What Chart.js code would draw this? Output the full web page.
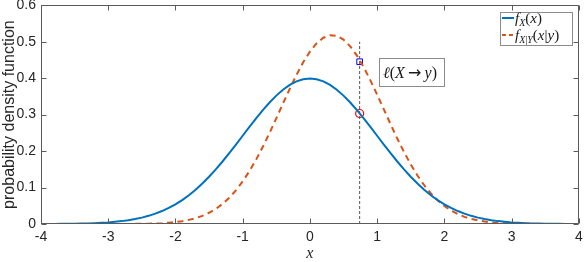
<!DOCTYPE html>
<html>
<head>
<meta charset="utf-8">
<script src="https://cdn.jsdelivr.net/npm/chart.js@4/dist/chart.umd.min.js"></script>
<style>
html,body{margin:0;padding:0;background:#fff;}
canvas{display:block;}
</style>
</head>
<body>
<canvas id="c" width="584" height="262"></canvas>
<script>
// ---- data ----
const xValues = [-4.0,-3.9,-3.8,-3.7,-3.6,-3.5,-3.4,-3.3,-3.2,-3.1,
  -3.0,-2.9,-2.8,-2.7,-2.6,-2.5,-2.4,-2.3,-2.2,-2.1,
  -2.0,-1.9,-1.8,-1.7,-1.6,-1.5,-1.4,-1.3,-1.2,-1.1,
  -1.0,-0.9,-0.8,-0.7,-0.6,-0.5,-0.4,-0.3,-0.2,-0.1,
  0.0,0.1,0.2,0.3,0.4,0.5,0.6,0.7,0.8,0.9,
  1.0,1.1,1.2,1.3,1.4,1.5,1.6,1.7,1.8,1.9,
  2.0,2.1,2.2,2.3,2.4,2.5,2.6,2.7,2.8,2.9,
  3.0,3.1,3.2,3.3,3.4,3.5,3.6,3.7,3.8,3.9,4.0];

const fX = [0.0001,0.0002,0.0003,0.0004,0.0006,0.0009,0.0012,0.0017,0.0024,0.0033,
  0.0044,0.0060,0.0079,0.0104,0.0136,0.0175,0.0224,0.0283,0.0355,0.0440,
  0.0540,0.0656,0.0790,0.0940,0.1109,0.1295,0.1497,0.1714,0.1942,0.2179,
  0.2420,0.2661,0.2897,0.3123,0.3332,0.3521,0.3683,0.3814,0.3910,0.3970,
  0.3989,0.3970,0.3910,0.3814,0.3683,0.3521,0.3332,0.3123,0.2897,0.2661,
  0.2420,0.2179,0.1942,0.1714,0.1497,0.1295,0.1109,0.0940,0.0790,0.0656,
  0.0540,0.0440,0.0355,0.0283,0.0224,0.0175,0.0136,0.0104,0.0079,0.0060,
  0.0044,0.0033,0.0024,0.0017,0.0012,0.0009,0.0006,0.0004,0.0003,0.0002,0.0001];

const fXgivenY = [0,0,0,0,0,0,0,0,0,0,
  0.0000,0.0001,0.0001,0.0002,0.0004,0.0006,0.0010,0.0015,0.0023,0.0036,
  0.0053,0.0078,0.0113,0.0160,0.0224,0.0308,0.0415,0.0551,0.0720,0.0924,
  0.1166,0.1447,0.1765,0.2117,0.2498,0.2898,0.3305,0.3707,0.4088,0.4433,
  0.4727,0.4955,0.5108,0.5177,0.5160,0.5056,0.4872,0.4616,0.4300,0.3940,
  0.3548,0.3142,0.2737,0.2343,0.1973,0.1634,0.1330,0.1064,0.0837,0.0648,
  0.0493,0.0369,0.0271,0.0196,0.0140,0.0098,0.0067,0.0045,0.0030,0.0020,
  0.0013,0.0008,0.0005,0.0003,0.0002,0.0001,0.0001,0,0,0,0];

const markerX = 0.74;          // observed y position on the x axis
const squareY = 0.445;         // f_{X|Y}(x|y) at markerX
const circleY = 0.303;         // f_X(x) at markerX
const vlineY = [0, 0.5];       // extent of the dashed vertical line
const xTicks = [-4,-3,-2,-1,0,1,2,3,4];
const yTicks = [0,0.1,0.2,0.3,0.4,0.5,0.6];

// ---- chart ----
const BLUE = '#0072BD', ORANGE = '#D95319', AXIS = '#5a5a5a', TXT = '#262626';
Chart.defaults.font.family = "'Liberation Sans', Arial, sans-serif";
Chart.defaults.color = TXT;

function pts(xs, ys){ return xs.map((x,i)=>({x:x,y:ys[i]})); }

function drawMath(ctx, parts, x, y){
  // parts: [text, size, italic, dy, family]
  let cx = x;
  for (const p of parts){
    const fam = p[4] || "'Liberation Serif', 'DejaVu Serif', serif";
    ctx.font = (p[2] ? 'italic ' : '') + p[1] + "px " + fam;
    ctx.fillText(p[0], cx, y + (p[3]||0));
    cx += ctx.measureText(p[0]).width;
  }
  return cx;
}

const boxPlugin = {
  id: 'matlabBox',
  afterDatasetsDraw(chart){
    const {ctx, chartArea: a, scales:{x, y}} = chart;
    ctx.save();
    ctx.strokeStyle = AXIS;
    ctx.lineWidth = 1;
    const L = Math.round(a.left)+0.5, R = Math.round(a.right)-0.5,
          T = Math.round(a.top)+0.5, B = Math.round(a.bottom)-0.5;
    ctx.beginPath();
    ctx.rect(L, T, R-L, B-T);
    const tl = 5;
    xTicks.forEach(v=>{
      const px = Math.round(x.getPixelForValue(v))+0.5;
      ctx.moveTo(px, B); ctx.lineTo(px, B-tl);
      ctx.moveTo(px, T); ctx.lineTo(px, T+tl);
    });
    yTicks.forEach(v=>{
      const py = Math.round(y.getPixelForValue(v))+0.5;
      ctx.moveTo(L, py); ctx.lineTo(L+tl, py);
      ctx.moveTo(R, py); ctx.lineTo(R-tl, py);
    });
    ctx.stroke();

    // annotation box  l(X -> y)
    const bx = 379, by = 58, bw = 66, bh = 29;
    ctx.fillStyle = '#fff';
    ctx.fillRect(bx, by, bw, bh);
    ctx.strokeStyle = '#8c8c8c';
    ctx.strokeRect(bx+0.5, by+0.5, bw-1, bh-1);
    ctx.fillStyle = '#1a1a1a';
    ctx.textBaseline = 'alphabetic';
    drawMath(ctx, [['\u2113',16,true],['(',16,false],['X',16,true],['\u2009\u2192\u2009',16,false,0,"'DejaVu Sans', sans-serif"],['y',16,true],[')',16,false]], bx+4, by+20);

    // legend
    const lx = 500, ly = 12, lw = 73, lh = 34;
    ctx.fillStyle = '#fff';
    ctx.fillRect(lx, ly, lw, lh);
    ctx.strokeStyle = '#8c8c8c';
    ctx.strokeRect(lx+0.5, ly+0.5, lw-1, lh-1);
    ctx.lineWidth = 2;
    ctx.strokeStyle = BLUE;
    ctx.beginPath(); ctx.moveTo(lx+2, ly+6); ctx.lineTo(lx+14, ly+6); ctx.stroke();
    ctx.strokeStyle = ORANGE;
    ctx.setLineDash([4,3]);
    ctx.beginPath(); ctx.moveTo(lx+2, ly+23); ctx.lineTo(lx+14, ly+23); ctx.stroke();
    ctx.setLineDash([]);
    ctx.fillStyle = '#1a1a1a';
    drawMath(ctx, [['f',15,true],['X',10,true,3],['(',15,false],['x',15,true],[')',15,false]], lx+15, ly+11);
    drawMath(ctx, [['f',15,true],['X',10,true,3],['|',10,false,3],['Y',10,true,3],['(',15,false],['x',15,true],['|',15,false],['y',15,true],[')',15,false]], lx+15, ly+28);
    ctx.restore();
  }
};

new Chart(document.getElementById('c'), {
  type: 'scatter',
  data: {
    datasets: [
      { label: 'fX', data: pts(xValues, fX), showLine: true, borderColor: BLUE, borderWidth: 2,
        pointRadius: 0, fill: false, tension: 0 },
      { label: 'fXY', data: pts(xValues, fXgivenY), showLine: true, borderColor: ORANGE, borderWidth: 2,
        borderDash: [6,4.5], pointRadius: 0, fill: false, tension: 0 },
      { label: 'vline', data: [{x:markerX,y:vlineY[0]},{x:markerX,y:vlineY[1]}], showLine: true,
        borderColor: '#555555', borderWidth: 1, borderDash: [3,2], pointRadius: 0 },
      { label: 'sq', data: [{x:markerX,y:squareY}], pointStyle: 'rect', pointRadius: 4,
        borderColor: '#0000ff', borderWidth: 1, backgroundColor: 'rgba(0,0,0,0)' },
      { label: 'circ', data: [{x:markerX,y:circleY}], pointStyle: 'circle', pointRadius: 4,
        borderColor: '#ff0000', borderWidth: 1.2, backgroundColor: 'rgba(0,0,0,0)' }
    ]
  },
  options: {
    responsive: false,
    animation: false,
    devicePixelRatio: 1,
    layout: { padding: { top: 5, right: 3, left: 0, bottom: 0 } },
    plugins: { legend: { display: false }, tooltip: { enabled: false } },
    scales: {
      x: {
        type: 'linear', min: -4, max: 4,
        afterBuildTicks: s => { s.ticks = xTicks.map(v=>({value:v})); },
        afterFit: s => { s.height = 38; s.paddingLeft = 0; s.paddingRight = 0; },
        grid: { display: false, drawTicks: false },
        border: { display: false },
        ticks: { padding: 5, font: { size: 14 }, color: TXT, maxRotation: 0,
                 callback: v => String(v) },
        title: { display: true, text: 'x', padding: 0, color: TXT,
                 font: { family: "'Liberation Serif', serif", style: 'italic', size: 16, lineHeight: 1 } }
      },
      y: {
        type: 'linear', min: 0, max: 0.6,
        afterBuildTicks: s => { s.ticks = yTicks.map(v=>({value:v})); },
        afterFit: s => { s.width = 41; s.paddingTop = 0; s.paddingBottom = 0; },
        grid: { display: false, drawTicks: false },
        border: { display: false },
        ticks: { padding: 5, font: { size: 14 }, color: TXT,
                 callback: v => String(Math.round(v*10)/10) },
        title: { display: true, text: 'probability density function', padding: 0, color: TXT,
                 font: { size: 16, lineHeight: 1.2 } }
      }
    }
  },
  plugins: [boxPlugin]
});
</script>
</body>
</html>
